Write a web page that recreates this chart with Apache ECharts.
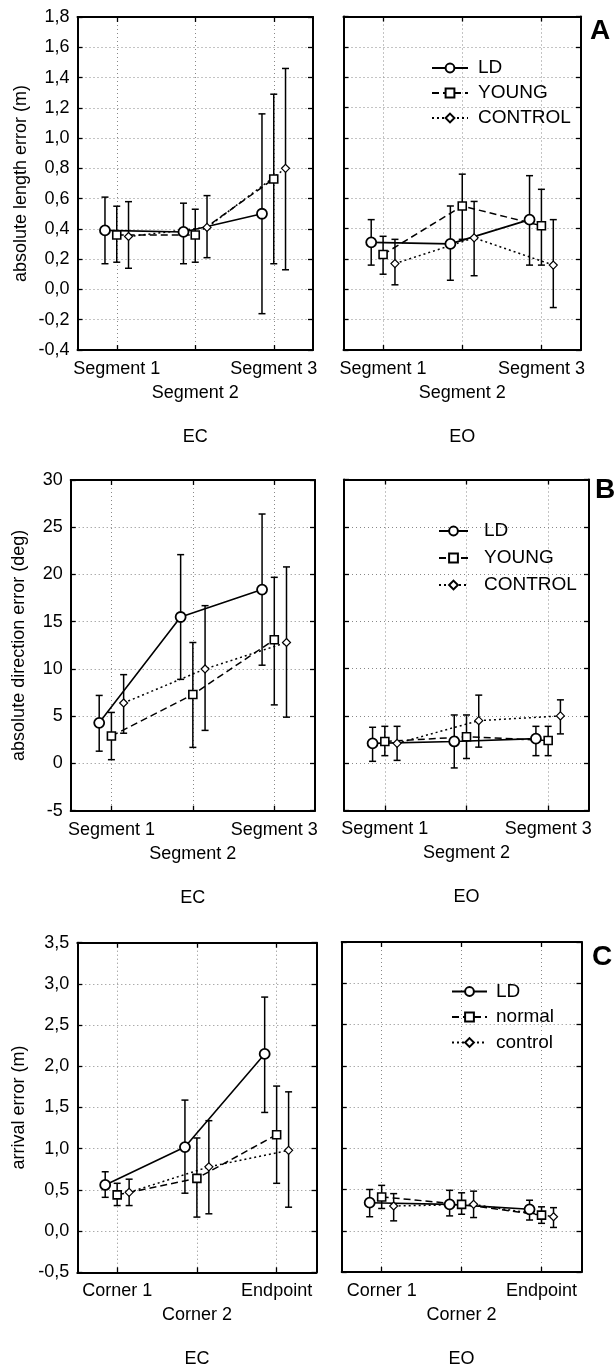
<!DOCTYPE html>
<html><head><meta charset="utf-8">
<script src="https://cdn.jsdelivr.net/npm/echarts@6/dist/echarts.min.js"></script>
<style>html,body{margin:0;padding:0;background:#fff}#c{width:616px;height:1366px}</style>
</head><body><div id="c"></div>
<script>
// ---------- categories, labels, ticks ----------
const segmentLabels = ['Segment 1', 'Segment 2', 'Segment 3'];
const cornerLabels = ['Corner 1', 'Corner 2', 'Endpoint'];
const groupsAB = ['LD', 'YOUNG', 'CONTROL'];
const groupsC = ['LD', 'normal', 'control'];
const conditions = ['EC', 'EO'];
const panelLetters = ['A', 'B', 'C'];
const yTitles = ['absolute length error (m)', 'absolute direction error (deg)', 'arrival error (m)'];
const lengthTicks = [-0.4, -0.2, 0, 0.2, 0.4, 0.6, 0.8, 1.0, 1.2, 1.4, 1.6, 1.8];
const directionTicks = [-5, 0, 5, 10, 15, 20, 25, 30];
const arrivalTicks = [-0.5, 0, 0.5, 1.0, 1.5, 2.0, 2.5, 3.0, 3.5];

// ---------- values: [mean, lower whisker, upper whisker] per category ----------
// Panel A: absolute length error (m)
const lenEC_LD      = [[0.39, 0.17, 0.61], [0.38, 0.17, 0.57], [0.50, -0.16, 1.16]];
const lenEC_YOUNG   = [[0.36, 0.18, 0.55], [0.36, 0.18, 0.53], [0.73, 0.17, 1.29]];
const lenEC_CONTROL = [[0.35, 0.14, 0.58], [0.41, 0.21, 0.62], [0.80, 0.13, 1.46]];
const lenEO_LD      = [[0.31, 0.16, 0.46], [0.30, 0.06, 0.55], [0.46, 0.16, 0.75]];
const lenEO_YOUNG   = [[0.23, 0.10, 0.35], [0.55, 0.33, 0.76], [0.42, 0.16, 0.66]];
const lenEO_CONTROL = [[0.17, 0.03, 0.33], [0.34, 0.09, 0.58], [0.16, -0.12, 0.46]];
// Panel B: absolute direction error (deg)
const dirEC_LD      = [[4.3, 1.3, 7.2], [15.5, 8.9, 22.1], [18.4, 10.4, 26.4]];
const dirEC_YOUNG   = [[2.9, 0.4, 5.4], [7.3, 1.7, 12.8], [13.1, 6.2, 19.7]];
const dirEC_CONTROL = [[6.4, 3.2, 9.4], [10.0, 3.5, 16.7], [12.8, 4.9, 20.8]];
const dirEO_LD      = [[2.1, 0.2, 3.8], [2.3, -0.5, 5.1], [2.6, 0.8, 3.9]];
const dirEO_YOUNG   = [[2.3, 0.8, 3.9], [2.8, 0.5, 5.1], [2.4, 0.8, 3.9]];
const dirEO_CONTROL = [[2.1, 0.3, 3.9], [4.5, 1.7, 7.2], [5.0, 3.1, 6.7]];
// Panel C: arrival error (m)
const arrEC_LD      = [[0.56, 0.41, 0.72], [1.02, 0.46, 1.59], [2.15, 1.44, 2.84]];
const arrEC_normal  = [[0.44, 0.31, 0.58], [0.64, 0.17, 1.13], [1.17, 0.58, 1.76]];
const arrEC_control = [[0.47, 0.31, 0.63], [0.78, 0.21, 1.34], [0.98, 0.29, 1.69]];
const arrEO_LD      = [[0.34, 0.17, 0.50], [0.32, 0.18, 0.49], [0.26, 0.13, 0.37]];
const arrEO_normal  = [[0.41, 0.27, 0.55], [0.32, 0.20, 0.46], [0.19, 0.09, 0.29]];
const arrEO_control = [[0.30, 0.12, 0.45], [0.32, 0.16, 0.48], [0.17, 0.04, 0.28]];

// ---------- layout & styling ----------
const FONT = '"Liberation Sans", Arial, Helvetica, sans-serif';
const offsets = [-0.15, 0, 0.15];
const groupStyles = [
  { symbol: 'circle', symbolSize: 10, line: { type: 'solid', width: 1.6 }, border: 1.8 },
  { symbol: 'rect', symbolSize: 8, line: { type: [7, 4], width: 1.5 }, border: 1.6 },
  { symbol: 'diamond', symbolSize: 8, line: { type: [2, 3], width: 1.5 }, border: 1.2 }
];
const panels = [
  { grid: { left: 77.5, top: 17, width: 235.5, height: 333 }, ticks: lengthTicks, cats: segmentLabels, groups: groupsAB,
    data: [lenEC_LD, lenEC_YOUNG, lenEC_CONTROL], title: yTitles[0], nameGap: 47, cond: conditions[0], dec: 1 },
  { grid: { left: 343.5, top: 16.5, width: 237.5, height: 333.5 }, ticks: lengthTicks, cats: segmentLabels, groups: groupsAB,
    data: [lenEO_LD, lenEO_YOUNG, lenEO_CONTROL], title: null, cond: conditions[1], dec: 1 },
  { grid: { left: 70.7, top: 480, width: 244.3, height: 330.7 }, ticks: directionTicks, cats: segmentLabels, groups: groupsAB,
    data: [dirEC_LD, dirEC_YOUNG, dirEC_CONTROL], title: yTitles[1], nameGap: 43, cond: conditions[0], dec: 0 },
  { grid: { left: 344, top: 479.5, width: 245, height: 331 }, ticks: directionTicks, cats: segmentLabels, groups: groupsAB,
    data: [dirEO_LD, dirEO_YOUNG, dirEO_CONTROL], title: null, cond: conditions[1], dec: 0 },
  { grid: { left: 77.3, top: 942.7, width: 239.2, height: 329.6 }, ticks: arrivalTicks, cats: cornerLabels, groups: groupsC,
    data: [arrEC_LD, arrEC_normal, arrEC_control], title: yTitles[2], nameGap: 49, cond: conditions[0], dec: 1 },
  { grid: { left: 341.7, top: 942, width: 239.8, height: 330 }, ticks: arrivalTicks, cats: cornerLabels, groups: groupsC,
    data: [arrEO_LD, arrEO_normal, arrEO_control], title: null, cond: conditions[1], dec: 1 }
];

const grids = [], xAxes = [], yAxes = [], series = [], graphics = [];
const axisLine = { show: true, onZero: false, lineStyle: { color: '#000', width: 2 } };
const tickStyle = { color: '#000', width: 1.3 };
const split = { show: true, lineStyle: { type: [1, 3], color: '#888', width: 1 } };

panels.forEach((p, i) => {
  grids.push(Object.assign({ containLabel: false, outerBoundsMode: 'none' }, p.grid));
  const catVals = p.cats.map((_, k) => k + 1);
  const xBase = { gridIndex: i, type: 'value', min: 0.5, max: catVals.length + 0.5 };
  xAxes.push(Object.assign({}, xBase, {
    position: 'bottom', axisLine,
    axisTick: { inside: true, length: 5, customValues: catVals, lineStyle: tickStyle },
    axisLabel: {
      customValues: [catVals[0], catVals[2]], margin: 10, color: '#000', fontSize: 18, fontFamily: FONT,
      hideOverlap: false,
      formatter: v => p.cats[Math.round(v) - 1]
    },
    // the middle category label sits on a second line, as in the original figure
    name: p.cats[1], nameLocation: 'middle', nameGap: 34,
    nameTextStyle: { color: '#000', fontSize: 18, fontFamily: FONT },
    splitLine: split
  }));
  xAxes.push(Object.assign({}, xBase, {
    position: 'top', axisLine,
    axisTick: { inside: true, length: 5, customValues: catVals, lineStyle: tickStyle },
    axisLabel: { show: false }, splitLine: { show: false }
  }));
  const t = p.ticks;
  const yBase = { gridIndex: i, type: 'value', min: t[0], max: t[t.length - 1], interval: +(t[1] - t[0]).toFixed(6) };
  yAxes.push(Object.assign({}, yBase, {
    position: 'left', axisLine,
    axisTick: { inside: true, length: 5, lineStyle: tickStyle },
    axisLabel: {
      show: !!p.title, margin: 8, color: '#000', fontSize: 18, fontFamily: FONT,
      formatter: v => p.dec ? (Math.abs(v) < 1e-9 ? 0 : v).toFixed(1).replace('.', ',') : String(Math.round(v))
    },
    splitLine: split,
    name: p.title || '', nameLocation: 'middle', nameGap: p.nameGap || 0,
    nameTextStyle: { color: '#000', fontSize: 18, fontFamily: FONT }
  }));
  yAxes.push(Object.assign({}, yBase, {
    position: 'right', axisLine,
    axisTick: { inside: true, length: 5, lineStyle: tickStyle },
    axisLabel: { show: false }, splitLine: { show: false }
  }));

  p.data.forEach((d, g) => {
    const st = groupStyles[g];
    series.push({
      type: 'custom', xAxisIndex: 2 * i, yAxisIndex: 2 * i, z: 1, silent: true, animation: false,
      data: d.map((v, k) => [k + 1 + offsets[g], v[1], v[2]]),
      encode: { x: 0, y: [1, 2] },
      renderItem: (params, api) => {
        const x = api.value(0);
        const lo = api.coord([x, api.value(1)]);
        const hi = api.coord([x, api.value(2)]);
        const w = 3.5;
        const s = { stroke: '#000', lineWidth: 1.5 };
        return { type: 'group', children: [
          { type: 'line', shape: { x1: lo[0], y1: lo[1], x2: hi[0], y2: hi[1] }, style: s },
          { type: 'line', shape: { x1: lo[0] - w, y1: lo[1], x2: lo[0] + w, y2: lo[1] }, style: s },
          { type: 'line', shape: { x1: hi[0] - w, y1: hi[1], x2: hi[0] + w, y2: hi[1] }, style: s }
        ] };
      }
    });
    series.push({
      type: 'line', name: p.groups[g], xAxisIndex: 2 * i, yAxisIndex: 2 * i, z: 3, animation: false,
      data: d.map((v, k) => [k + 1 + offsets[g], v[0]]),
      symbol: st.symbol, symbolSize: st.symbolSize, showSymbol: true,
      lineStyle: { color: '#000', type: st.line.type, width: st.line.width },
      itemStyle: { color: '#fff', borderColor: '#000', borderWidth: st.border },
      emphasis: { disabled: true }
    });
  });

  // condition label below each plot
  graphics.push({
    type: 'text', x: p.grid.left + p.grid.width / 2, y: p.grid.top + p.grid.height + 87,
    style: { text: p.cond, fontSize: 18, fontFamily: FONT, fill: '#000', align: 'center', verticalAlign: 'middle' }
  });
});

const letterPos = [[600, 31], [605, 490], [602, 957]];
panelLetters.forEach((L, k) => {
  graphics.push({
    type: 'text', x: letterPos[k][0], y: letterPos[k][1],
    style: { text: L, fontSize: 28, fontWeight: 'bold', fontFamily: FONT, fill: '#000', align: 'center', verticalAlign: 'middle' }
  });
});

const legendBase = {
  orient: 'vertical', selectedMode: false, itemHeight: 11,
  textStyle: { color: '#000', fontSize: 19, fontFamily: FONT }
};
const legends = [
  Object.assign({}, legendBase, { data: groupsAB, left: 426, top: 53.5, itemWidth: 36, itemGap: 6,
    textStyle: Object.assign({}, legendBase.textStyle, { padding: [0, 0, 0, 5] }) }),
  Object.assign({}, legendBase, { data: groupsAB, left: 433, top: 516.5, itemWidth: 29, itemGap: 8,
    textStyle: Object.assign({}, legendBase.textStyle, { padding: [0, 0, 0, 11] }) }),
  Object.assign({}, legendBase, { data: groupsC, left: 446, top: 977, itemWidth: 35, itemGap: 6.5,
    textStyle: Object.assign({}, legendBase.textStyle, { padding: [0, 0, 0, 4] }) })
];

const chart = echarts.init(document.getElementById('c'), null, { renderer: 'canvas', width: 616, height: 1366 });
chart.setOption({
  animation: false,
  backgroundColor: '#fff',
  grid: grids, xAxis: xAxes, yAxis: yAxes, series: series,
  legend: legends, graphic: graphics
});
</script>
</body></html>
